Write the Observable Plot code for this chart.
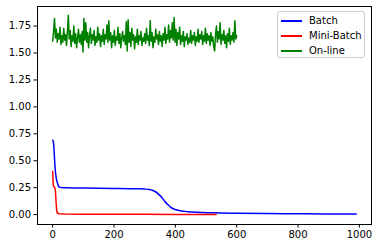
<!DOCTYPE html>
<html>
<head>
<meta charset="utf-8">
<script src="https://cdn.jsdelivr.net/npm/d3@7"></script>
<script src="https://cdn.jsdelivr.net/npm/@observablehq/plot@0.6"></script>
<style>
  html, body { margin: 0; padding: 0; background: #fff; }
  #wrap { position: relative; width: 378px; height: 248px; font-family: "DejaVu Sans", sans-serif; }
  #legend { position: absolute; left: 277px; top: 11px; width: 88px; height: 47px; box-sizing: border-box;
    border: 1px solid #cccccc; border-radius: 3px; background: rgba(255,255,255,0.8); font-size: 10px; color: #000; }
  .item { position: absolute; left: 0; height: 12px; line-height: 12px; }
  .swatch { position: absolute; left: 3px; top: 5px; width: 21px; height: 1.5px; }
  .lab { position: absolute; left: 31px; top: 0; white-space: nowrap; }
</style>
</head>
<body>
<div id="wrap"></div>
<script>
// Batch series
const batchX = [0, 2, 4, 6, 8, 10, 13, 16, 19, 22, 30, 50, 100, 150, 200, 250, 280, 300, 315, 325, 335, 345, 355, 365, 375, 385, 395, 405, 420, 440, 470, 500, 550, 600, 700, 800, 900, 990];
const batchY = [0.69, 0.68, 0.62, 0.52, 0.43, 0.37, 0.32, 0.29, 0.265, 0.255, 0.252, 0.249, 0.246, 0.244, 0.242, 0.240, 0.239, 0.237, 0.233, 0.226, 0.212, 0.190, 0.160, 0.125, 0.093, 0.068, 0.052, 0.043, 0.034, 0.027, 0.021, 0.018, 0.015, 0.012, 0.009, 0.007, 0.006, 0.005];

// Mini-Batch series
const miniX = [0, 1, 2, 4, 7, 9, 11, 13, 15, 20, 40, 100, 200, 300, 400, 533];
const miniY = [0.40, 0.33, 0.27, 0.26, 0.25, 0.22, 0.12, 0.04, 0.015, 0.008, 0.005, 0.004, 0.003, 0.003, 0.002, 0.002];

// On-line series (sampled every 3 epochs, 0..600)
const onlineStep = 3;
const onlineY = [
  1.61, 1.70, 1.82, 1.64, 1.72, 1.60, 1.68, 1.63, 1.74, 1.58,
  1.66, 1.60, 1.73, 1.62, 1.67, 1.57, 1.70, 1.85, 1.63, 1.71,
  1.56, 1.66, 1.61, 1.75, 1.59, 1.68, 1.55, 1.64, 1.72, 1.60,
  1.67, 1.58, 1.70, 1.51, 1.82, 1.62, 1.78, 1.60, 1.69, 1.55,
  1.66, 1.73, 1.59, 1.67, 1.62, 1.71, 1.57, 1.65, 1.60, 1.74,
  1.62, 1.68, 1.56, 1.66, 1.61, 1.72, 1.58, 1.67, 1.63, 1.76,
  1.60, 1.80, 1.62, 1.69, 1.55, 1.66, 1.60, 1.71, 1.57, 1.65,
  1.62, 1.74, 1.59, 1.68, 1.55, 1.64, 1.70, 1.61, 1.66, 1.58,
  1.79, 1.52, 1.81, 1.60, 1.69, 1.56, 1.73, 1.62, 1.67, 1.54,
  1.65, 1.60, 1.72, 1.58, 1.66, 1.62, 1.70, 1.57, 1.64, 1.61,
  1.68, 1.59, 1.73, 1.62, 1.66, 1.57, 1.80, 1.61, 1.69, 1.55,
  1.65, 1.60, 1.72, 1.63, 1.67, 1.58, 1.70, 1.61, 1.66, 1.56,
  1.68, 1.62, 1.74, 1.59, 1.67, 1.63, 1.76, 1.60, 1.71, 1.64,
  1.78, 1.62, 1.83, 1.60, 1.72, 1.57, 1.69, 1.63, 1.74, 1.58,
  1.66, 1.61, 1.70, 1.56, 1.65, 1.62, 1.68, 1.58, 1.64, 1.60,
  1.71, 1.59, 1.66, 1.62, 1.69, 1.57, 1.65, 1.61, 1.72, 1.60,
  1.67, 1.63, 1.70, 1.58, 1.66, 1.61, 1.73, 1.59, 1.68, 1.62,
  1.66, 1.57, 1.69, 1.61, 1.65, 1.56, 1.52, 1.67, 1.75, 1.60,
  1.70, 1.63, 1.78, 1.58, 1.67, 1.62, 1.71, 1.59, 1.66, 1.55,
  1.68, 1.61, 1.73, 1.58, 1.66, 1.62, 1.69, 1.60, 1.80, 1.63,
  1.66
];

const seriesNames = ["Batch", "Mini-Batch", "On-line"];
const seriesColors = ["#0000ff", "#ff0000", "#008000"];
const xTicks = [0, 200, 400, 600, 800, 1000];
const yTicks = [0, 0.25, 0.5, 0.75, 1.0, 1.25, 1.5, 1.75];

const batch = batchX.map((x, i) => ({x, y: batchY[i]}));
const mini = miniX.map((x, i) => ({x, y: miniY[i]}));
const online = onlineY.map((y, i) => ({x: i * onlineStep, y}));

const chart = Plot.plot({
  width: 378,
  height: 248,
  marginLeft: 37,
  marginRight: 7,
  marginTop: 6,
  marginBottom: 24,
  style: {fontFamily: "DejaVu Sans", fontSize: "10px", color: "#000", background: "#fff"},
  x: {domain: [-49.5, 1039.5], ticks: xTicks, tickFormat: d3.format("d"), label: null, tickSize: 3.5, tickPadding: 2.5},
  y: {domain: [-0.092, 1.932], ticks: yTicks, tickFormat: d3.format(".2f"), label: null, tickSize: 3.5, tickPadding: 3},
  marks: [
    Plot.line(online, {x: "x", y: "y", stroke: seriesColors[2], strokeWidth: 1.5}),
    Plot.line(batch, {x: "x", y: "y", stroke: seriesColors[0], strokeWidth: 1.5, curve: "monotone-x"}),
    Plot.line(mini, {x: "x", y: "y", stroke: seriesColors[1], strokeWidth: 1.5}),
    Plot.frame({stroke: "#000", strokeWidth: 1})
  ]
});

const wrap = document.getElementById("wrap");
wrap.appendChild(chart);

const legend = document.createElement("div");
legend.id = "legend";
seriesNames.forEach((name, i) => {
  const item = document.createElement("div");
  item.className = "item";
  item.style.top = (3 + i * 15) + "px";
  item.style.width = "100%";
  const sw = document.createElement("div");
  sw.className = "swatch";
  sw.style.background = seriesColors[i];
  const lab = document.createElement("div");
  lab.className = "lab";
  lab.textContent = name;
  item.appendChild(sw);
  item.appendChild(lab);
  legend.appendChild(item);
});
wrap.appendChild(legend);
</script>
</body>
</html>
